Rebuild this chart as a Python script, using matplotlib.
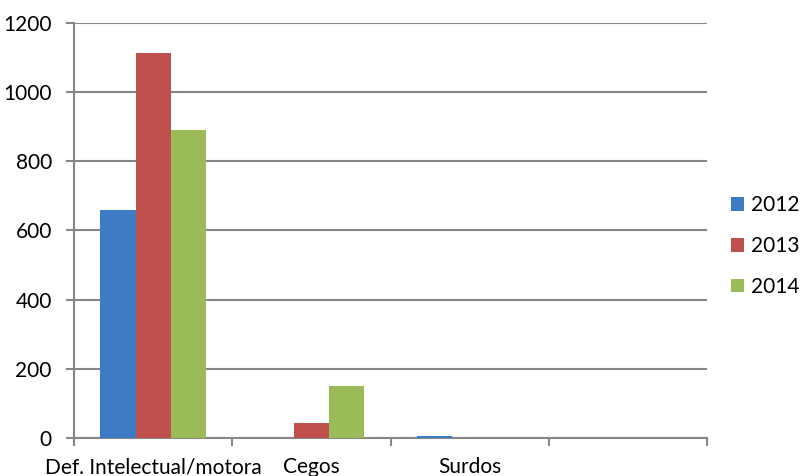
import matplotlib.pyplot as plt
import numpy as np

plt.rcParams['font.family'] = ['Lato', 'DejaVu Sans']

categories = ["Def. Intelectual/motora", "Cegos", "Surdos", ""]
years = ["2012", "2013", "2014"]
v2012 = [660, 0, 5, 0]
v2013 = [1112, 44, 0, 0]
v2014 = [892, 151, 0, 0]
colors = ['#3D7BC5', '#C0504D', '#9BBB59']

fig = plt.figure(figsize=(8.06, 4.76), dpi=100)
ax = fig.add_axes([74/806, 1 - 438/476, (707-74)/806, (438-23)/476])

x = np.arange(len(categories))
w = 1 / 4.5
for k, (vals, lab, col) in enumerate(zip([v2012, v2013, v2014], years, colors)):
    ax.bar(x + (k - 1) * w, vals, width=w, color=col, label=lab, zorder=3)

grey = '#868686'
ax.set_xlim(-0.5, len(categories) - 0.5)
ax.set_ylim(0, 1200)
ax.set_yticks(range(0, 1201, 200))
ax.grid(axis='y', color=grey, linewidth=1.5, zorder=0)

for s in ['top', 'right']:
    ax.spines[s].set_visible(False)
for s in ['left', 'bottom']:
    ax.spines[s].set_color(grey)
    ax.spines[s].set_linewidth(1.5)

# boundary ticks as major, category labels as minor
ax.set_xticks(np.arange(-0.5, len(categories), 1.0))
ax.set_xticklabels([])
ax.set_xticks(x, minor=True)
ax.set_xticklabels(categories, minor=True, fontsize=15)
ax.tick_params(axis='x', which='major', length=6, width=1.5, color=grey)
ax.tick_params(axis='x', which='minor', length=0, pad=14)
ax.tick_params(axis='y', length=6, width=1.5, color=grey, labelsize=15, pad=10)

fig.legend(loc='center left', bbox_to_anchor=(712/806, 1 - 246/476), frameon=False,
           fontsize=15, handlelength=0.65, handleheight=0.65, handletextpad=0.3,
           labelspacing=1.0)

fig.savefig('out.png', dpi=100)
